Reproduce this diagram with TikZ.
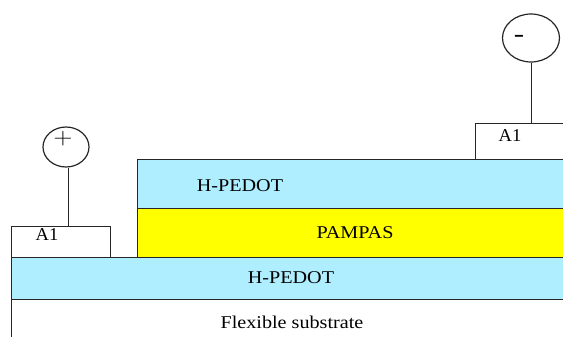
\documentclass[tikz,border=0pt]{standalone}
\usepackage{fontspec}
\setmainfont{Liberation Serif}
\usepackage{xcolor}
\usetikzlibrary{shapes.geometric}
\definecolor{pedotblue}{RGB}{174,238,255}
\definecolor{pampasyellow}{RGB}{255,255,0}
\tikzstyle{layer} = [draw=black!85, line width=1.2pt, inner sep=0pt, anchor=north west]
\tikzstyle{terminal} = [draw=black!85, line width=1.2pt, inner sep=0pt, ellipse, fill=white]
\tikzstyle{lbl} = [inner sep=0pt, xscale=1.12, font=\fontsize{18}{20}\selectfont]
\tikzstyle{line} = [draw=black!85, line width=1pt]
\begin{document}
\begin{tikzpicture}[x=1pt, y=-1pt]
		\useasboundingbox (0,0) rectangle (563,337);
		\node [layer, fill=white, minimum width=600pt, minimum height=60pt] (substrate) at (11,299) {};
		\node [layer, fill=pedotblue, minimum width=600pt, minimum height=42pt] (bottompedot) at (11,257) {};
		\node [layer, fill=pampasyellow, minimum width=480pt, minimum height=49pt] (pampas) at (137,208) {};
		\node [layer, fill=pedotblue, minimum width=480pt, minimum height=49pt] (toppedot) at (137,159) {};
		\node [layer, fill=white, minimum width=99pt, minimum height=31pt] (leftal) at (11,226) {};
		\node [layer, fill=white, minimum width=120pt, minimum height=36pt] (rightal) at (475,123) {};
		\node [terminal, minimum width=46pt, minimum height=40pt] (plus) at (66,147) {};
		\node [terminal, minimum width=57pt, minimum height=48pt] (minus) at (531,38) {};
		\node [lbl, font=\fontsize{19}{20}\selectfont, scale=1.35] (plussign) at (63,139) {$+$};
		\node [lbl, font=\fontsize{22}{24}\bfseries\selectfont, xscale=1.26] (minussign) at (519,38) {-};
		\node [lbl, xscale=0.92] (leftaltext) at (47,235) {A1};
		\node [lbl, xscale=0.92] (rightaltext) at (510,136) {A1};
		\node [lbl] (toptext) at (240,186) {H-PEDOT};
		\node [lbl] (pampastext) at (355,233) {PAMPAS};
		\node [lbl] (bottomtext) at (291,278) {H-PEDOT};
		\node [lbl] (substratetext) at (292,322) {Flexible substrate};
		\coordinate (leftfoot) at (68,226);
		\coordinate (rightfoot) at (531,123);
		\path [line] (plus.south -| leftfoot) -- (leftfoot);
		\path [line] (minus.south) -- (rightfoot);
\end{tikzpicture}
\end{document}
